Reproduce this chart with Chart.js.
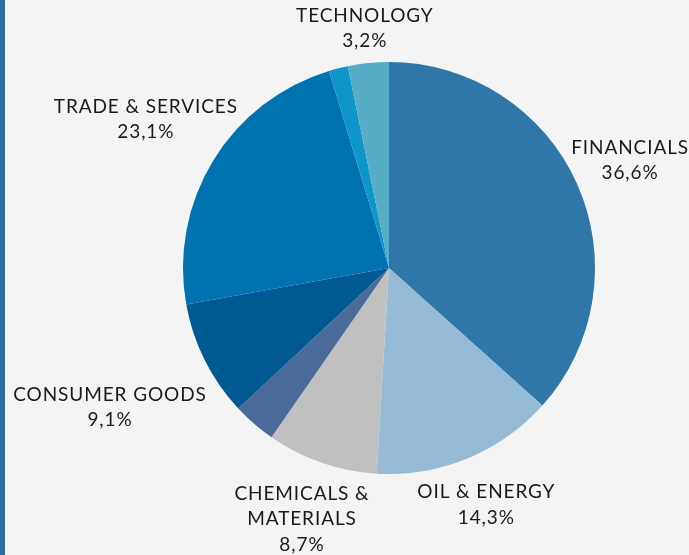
<!DOCTYPE html>
<html>
<head>
<meta charset="utf-8">
<script src="https://cdn.jsdelivr.net/npm/chart.js@4.4.0/dist/chart.umd.min.js"></script>
<style>
html,body{margin:0;padding:0;background:#f4f4f4;}
#wrap{position:relative;width:689px;height:555px;overflow:hidden;background:#f4f4f4;}
#bar{position:absolute;left:0;top:0;width:5px;height:555px;background:#2b6fa6;}
canvas{position:absolute;left:0;top:0;}
</style>
</head>
<body>
<div id="wrap">
<canvas id="c" width="689" height="555"></canvas>
<div id="bar"></div>
</div>
<script>
const categories = ["FINANCIALS", "OIL & ENERGY", "CHEMICALS &\nMATERIALS", "", "CONSUMER GOODS", "TRADE & SERVICES", "", "TECHNOLOGY"];
const shares = [36.6, 14.3, 8.7, 3.4, 9.1, 23.1, 1.5, 3.2];
const colors = ["#2e77a8", "#94bad6", "#c0c0c0", "#4a6a99", "#005a91", "#0072b0", "#0e96c8", "#58adc6"];
const labelOffsets = [58, 50, 60, 0, 106, 79, 0, 35];

const labelPlugin = {
  id: 'outerLabels',
  afterDatasetsDraw(chart) {
    const ctx = chart.ctx;
    const meta = chart.getDatasetMeta(0);
    ctx.save();
    ctx.font = '400 19px Lato';
    if ('letterSpacing' in ctx) ctx.letterSpacing = '0.9px';
    ctx.fillStyle = '#1a1a1a';
    ctx.textAlign = 'center';
    ctx.textBaseline = 'middle';
    const lh = 25.5;
    meta.data.forEach((arc, i) => {
      const name = categories[i];
      if (!name) return;
      const p = arc.getProps(['x','y','startAngle','endAngle','outerRadius'], true);
      const mid = (p.startAngle + p.endAngle) / 2;
      const r = p.outerRadius + labelOffsets[i];
      const cx = p.x + Math.cos(mid) * r;
      const cy = p.y + Math.sin(mid) * r;
      const lines = name.split('\n');
      lines.push(shares[i].toFixed(1).replace('.', ',') + '%');
      const y0 = cy - (lines.length - 1) * lh / 2;
      lines.forEach((t, k) => ctx.fillText(t, cx, y0 + k * lh));
    });
    ctx.restore();
  }
};

new Chart(document.getElementById('c'), {
  type: 'pie',
  data: {
    labels: categories,
    datasets: [{
      data: shares,
      backgroundColor: colors,
      borderWidth: 0
    }]
  },
  options: {
    responsive: false,
    animation: false,
    layout: { padding: { left: 183, top: 62, right: 94, bottom: 81 } },
    plugins: { legend: { display: false }, tooltip: { enabled: false } }
  },
  plugins: [labelPlugin]
});
</script>
</body>
</html>
